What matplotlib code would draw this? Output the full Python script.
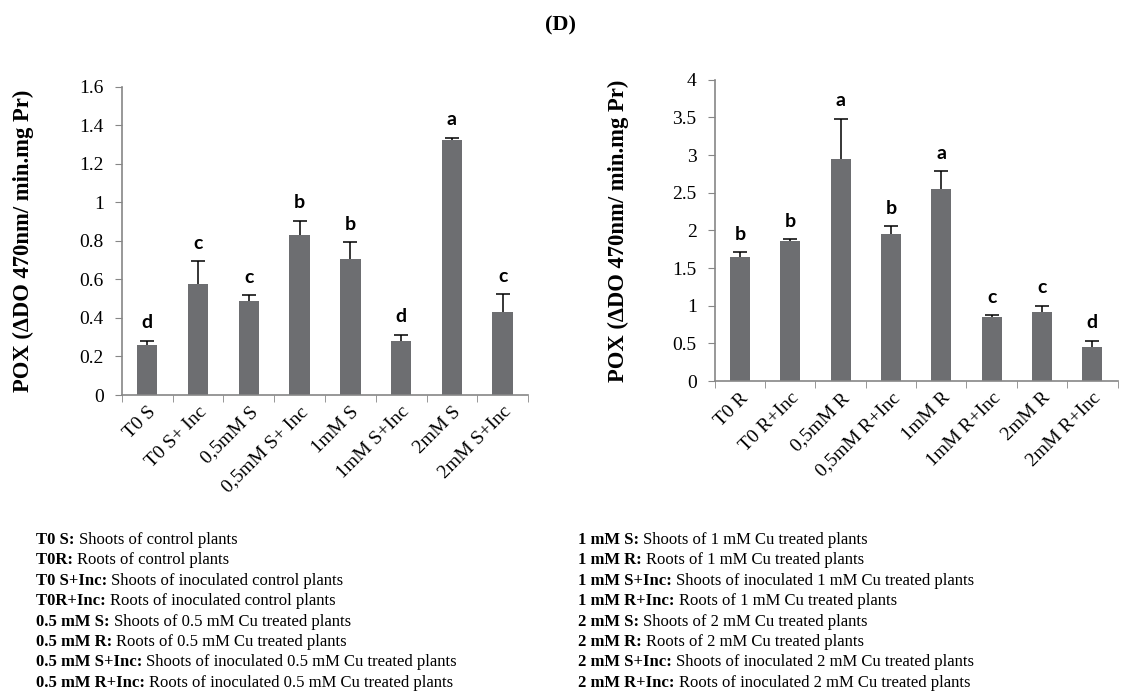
import matplotlib.pyplot as plt
import numpy as np

# shoots (left panel)
shoot_labels = ["T0 S", "T0 S+ Inc", "0,5mM S", "0,5mM S+ Inc",
                "1mM S", "1mM S+Inc", "2mM S", "2mM S+Inc"]
shoot_pox = [0.258, 0.575, 0.49, 0.828, 0.708, 0.279, 1.325, 0.43]
shoot_err = [0.024, 0.119, 0.028, 0.075, 0.085, 0.033, 0.010, 0.093]
shoot_letters = ["d", "c", "c", "b", "b", "d", "a", "c"]

# roots (right panel)
root_labels = ["T0 R", "T0 R+Inc", "0,5mM R", "0,5mM R+Inc",
               "1mM R", "1mM R+Inc", "2mM R", "2mM R+Inc"]
root_pox = [1.648, 1.862, 2.953, 1.946, 2.552, 0.851, 0.922, 0.459]
root_err = [0.062, 0.022, 0.526, 0.107, 0.232, 0.026, 0.080, 0.076]
root_letters = ["b", "b", "a", "b", "a", "c", "c", "d"]

legend_left = [
    ("T0 S:", "Shoots of control plants"),
    ("T0R:", "Roots of control plants"),
    ("T0 S+Inc:", "Shoots of inoculated control plants"),
    ("T0R+Inc:", "Roots of inoculated control plants"),
    ("0.5 mM S:", "Shoots of 0.5 mM Cu treated plants"),
    ("0.5 mM R:", "Roots of 0.5 mM Cu treated plants"),
    ("0.5 mM S+Inc:", "Shoots of inoculated 0.5 mM Cu treated plants"),
    ("0.5 mM R+Inc:", "Roots of inoculated 0.5 mM Cu treated plants"),
]
legend_right = [
    ("1 mM S:", "Shoots of 1 mM Cu treated plants"),
    ("1 mM R:", "Roots of 1 mM Cu treated plants"),
    ("1 mM S+Inc:", "Shoots of inoculated 1 mM Cu treated plants"),
    ("1 mM R+Inc:", "Roots of 1 mM Cu treated plants"),
    ("2 mM S:", "Shoots of 2 mM Cu treated plants"),
    ("2 mM R:", "Roots of 2 mM Cu treated plants"),
    ("2 mM S+Inc:", "Shoots of inoculated 2 mM Cu treated plants"),
    ("2 mM R+Inc:", "Roots of inoculated 2 mM Cu treated plants"),
]

BAR = "#6d6e71"
AXIS = "#868686"

plt.rcParams['font.family'] = ['Liberation Serif', 'DejaVu Serif']

fig = plt.figure(figsize=(11.22, 6.93), dpi=100)
fig.text(0.5, 0.963, "(D)", ha='center', va='center', fontsize=16, fontweight='bold')


def fmt_g(t):
    return ("%.1f" % t).rstrip('0').rstrip('.')


def panel(rect, labels, vals, errs, letters, ymax, step, labelpad):
    ax = fig.add_axes(rect)
    x = np.arange(len(vals))
    ax.bar(x, vals, width=0.4, color=BAR, zorder=2)
    eb = ax.errorbar(x, vals, yerr=[np.zeros(len(errs)), errs], fmt='none',
                     ecolor='black', elinewidth=1.1, capsize=5, capthick=1.1, zorder=3)
    eb.lines[1][0].set_visible(False)  # no cap at the bar top
    for xi, v, e, lt in zip(x, vals, errs, letters):
        ax.annotate(lt, (xi, v + e), xytext=(0, 13), textcoords='offset points',
                    ha='center', va='center', fontsize=14, fontweight='bold',
                    family='Lato')
    ax.set_xlim(-0.5, len(vals) - 0.5)
    ax.set_ylim(0, ymax)
    ticks = np.arange(0, ymax + step / 2, step)
    ax.set_yticks(ticks)
    ax.set_yticklabels([fmt_g(t) for t in ticks], fontsize=14)
    ax.set_xticks(x)
    ax.set_xticklabels(labels, rotation=45, ha='right', rotation_mode='anchor', fontsize=14)
    ax.set_xticks(np.arange(-0.5, len(vals)), minor=True)
    ax.tick_params(axis='x', which='major', length=0, pad=6)
    ax.tick_params(axis='x', which='minor', length=5, color=AXIS, direction='out')
    ax.tick_params(axis='y', length=5, color=AXIS, direction='out', pad=8)
    for s in ['top', 'right']:
        ax.spines[s].set_visible(False)
    for s in ['left', 'bottom']:
        ax.spines[s].set_color(AXIS)
        ax.spines[s].set_linewidth(1.2)
    ax.set_ylabel("POX (ΔDO 470nm/ min.mg Pr)", fontsize=16.3, fontweight='bold',
                  labelpad=labelpad)
    return ax


panel([0.1087, 0.43, 0.3619, 0.445], shoot_labels, shoot_pox, shoot_err,
      shoot_letters, 1.6, 0.2, 33)
panel([0.637, 0.45, 0.359, 0.435], root_labels, root_pox, root_err,
      root_letters, 4.0, 0.5, 31)

# transparent overlay so legend text can be chained with annotate
overlay = fig.add_axes([0, 0, 1, 1], frameon=False)
overlay.set_axis_off()


def legend_block(x0, entries):
    y = 1 - 540 / 693
    dy = 20.4 / 693
    for bold, rest in entries:
        t = overlay.text(x0, y, bold + " ", fontsize=12, fontweight='bold', va='center',
                         transform=fig.transFigure)
        overlay.annotate(rest, xy=(1, 0.5), xycoords=t, va='center', ha='left',
                         fontsize=12, annotation_clip=False)
        y -= dy


legend_block(36 / 1122, legend_left)
legend_block(578 / 1122, legend_right)

fig.savefig("out.png", dpi=100)
